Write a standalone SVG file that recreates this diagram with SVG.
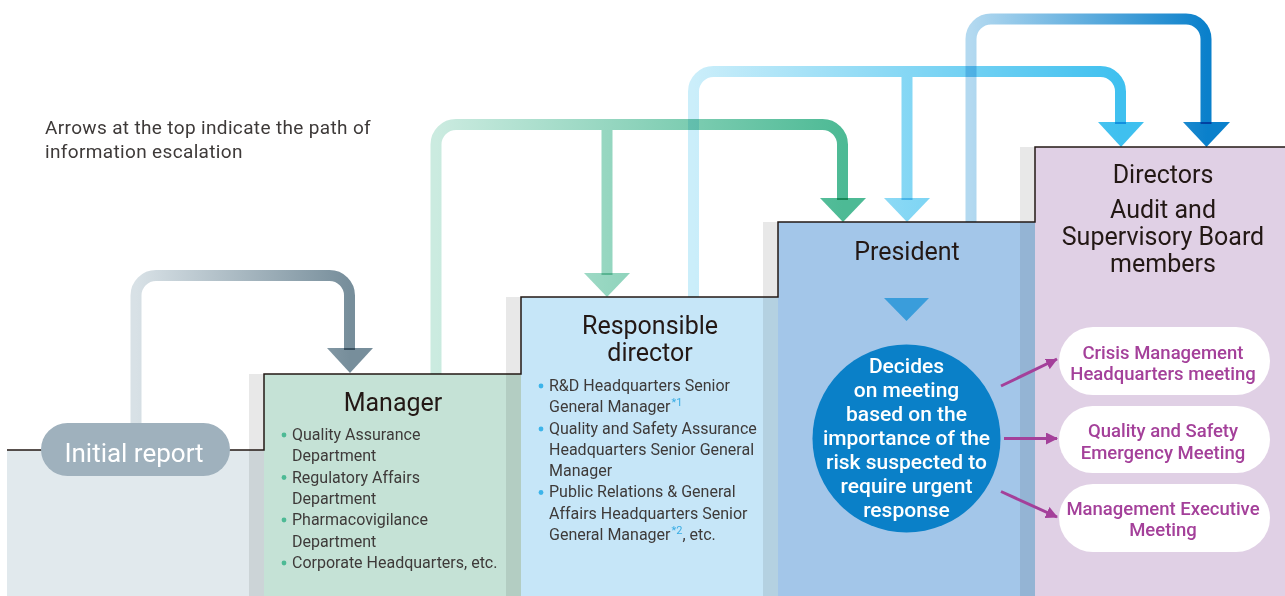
<svg xmlns="http://www.w3.org/2000/svg" width="1285" height="596" viewBox="0 0 1285 596">
<defs>
<style>
.t{font-family:Roboto,"Liberation Sans",sans-serif;fill:#231815}
.title{font-size:25px;text-anchor:middle}
.li{font-size:16px;fill:#3e3a39}
.note{font-size:19px;fill:#3e3a39;letter-spacing:0.35px}
.circ{font-size:21px;font-weight:500;fill:#fff;text-anchor:middle}
.mt{font-size:18.5px;font-weight:500;fill:#a4409a;text-anchor:middle}
.sup{font-size:11px;fill:#3aade4}
.shade{fill:#000;fill-opacity:0.09}
.pill{fill:#fff}
.parr{stroke:#a4409a;stroke-width:3;fill:none}
.arr{fill:none;stroke-width:11;mix-blend-mode:multiply}
.ah{mix-blend-mode:multiply}
</style>
<linearGradient id="g1" gradientUnits="userSpaceOnUse" x1="136" y1="0" x2="350" y2="0"><stop offset="0" stop-color="#d8e1e6"/><stop offset="1" stop-color="#778e9b"/></linearGradient>
<linearGradient id="g2" gradientUnits="userSpaceOnUse" x1="436" y1="0" x2="843" y2="0"><stop offset="0" stop-color="#cbebe0"/><stop offset="1" stop-color="#4dba95"/></linearGradient>
<linearGradient id="g3" gradientUnits="userSpaceOnUse" x1="693" y1="0" x2="1121" y2="0"><stop offset="0" stop-color="#cbeefa"/><stop offset="1" stop-color="#3fc0ef"/></linearGradient>
<linearGradient id="g4" gradientUnits="userSpaceOnUse" x1="971" y1="0" x2="1207" y2="0"><stop offset="0" stop-color="#b3d9f0"/><stop offset="1" stop-color="#0a80cb"/></linearGradient>
<marker id="pm" viewBox="0 0 12 12" refX="11" refY="6" markerWidth="12" markerHeight="12" markerUnits="userSpaceOnUse" orient="auto"><path d="M0,0 L12,6 L0,12 Z" fill="#a4409a"/></marker>
</defs>

<g id="steps">
<rect x="7" y="450" width="257" height="146" fill="#e1e9ed"/>
<rect x="264" y="374" width="257" height="222" fill="#c5e2d6"/>
<rect x="521" y="297" width="257" height="299" fill="#c6e6f8"/>
<rect x="778" y="222" width="257" height="374" fill="#a3c6e9"/>
<rect x="1035" y="147" width="250" height="449" fill="#e0d0e5"/>
<rect class="shade" x="249" y="374" width="15" height="222"/>
<rect class="shade" x="506" y="297" width="15" height="299"/>
<rect class="shade" x="763" y="222" width="15" height="374"/>
<rect class="shade" x="1020" y="147" width="15" height="449"/>
<polyline points="7,450 264,450 264,374 521,374 521,297 778,297 778,222 1035,222 1035,147 1285,147" fill="none" stroke="#231815" stroke-width="1.5"/>
</g>

<g id="connectors">
<path class="arr" stroke="url(#g1)" d="M136,424 V295.5 A20,20 0 0 1 156,275.5 H329.5 A20,20 0 0 1 349.5,295.5 V350"/>
<polygon class="ah" fill="url(#g1)" points="327,348 373,348 350,373"/>
<path class="arr" stroke="url(#g2)" d="M436,374 V144.5 A20,20 0 0 1 456,124.5 H822.5 A20,20 0 0 1 842.5,144.5 V200"/>
<path class="arr" stroke="url(#g2)" stroke-width="10" d="M607,130 V275"/>
<polygon class="ah" fill="url(#g2)" points="584,273 630,273 607,297"/>
<polygon class="ah" fill="url(#g2)" points="820,198 866,198 843,222"/>
<path class="arr" stroke="url(#g3)" d="M693.5,297 V91.5 A20,20 0 0 1 713.5,71.5 H1100.5 A20,20 0 0 1 1120.5,91.5 V124"/>
<path class="arr" stroke="url(#g3)" stroke-width="10" d="M907,77 V200"/>
<polygon class="ah" fill="url(#g3)" points="884,198 930,198 907,222"/>
<polygon class="ah" fill="url(#g3)" points="1098,122 1144,122 1121,147"/>
<path class="arr" stroke="url(#g4)" d="M971,222 V39 A20,20 0 0 1 991,19 H1186 A20,20 0 0 1 1206,39 V124"/>
<polygon class="ah" fill="url(#g4)" points="1183,122 1230,122 1206.5,147"/>
<line class="parr" x1="1001" y1="386" x2="1057" y2="359" marker-end="url(#pm)"/>
<line class="parr" x1="1004" y1="438.5" x2="1057" y2="438.5" marker-end="url(#pm)"/>
<line class="parr" x1="1001" y1="491.5" x2="1057" y2="517" marker-end="url(#pm)"/>
</g>

<g id="note">
<text class="t note" x="45" y="134">Arrows at the top indicate the path of</text>
<text class="t note" x="45" y="158">information escalation</text>
</g>

<g id="initial-report">
<rect x="41" y="423" width="189" height="53" rx="26.5" fill="#9fb1bd"/>
<text class="t" x="134" y="461.5" font-size="26" text-anchor="middle" style="fill:#fff">Initial report</text>
</g>

<g id="manager">
<text class="t title" x="393" y="411">Manager</text>
<g fill="#4dba95">
<circle cx="284" cy="435" r="2.4"/><circle cx="284" cy="477.5" r="2.4"/><circle cx="284" cy="520" r="2.4"/><circle cx="284" cy="563" r="2.4"/>
</g>
<text class="t li" x="292" y="440">Quality Assurance</text>
<text class="t li" x="292" y="461">Department</text>
<text class="t li" x="292" y="483">Regulatory Affairs</text>
<text class="t li" x="292" y="504">Department</text>
<text class="t li" x="292" y="525">Pharmacovigilance</text>
<text class="t li" x="292" y="547">Department</text>
<text class="t li" x="292" y="568">Corporate Headquarters, etc.</text>
</g>

<g id="responsible-director">
<text class="t title" x="650" y="334">Responsible</text>
<text class="t title" x="650" y="361">director</text>
<g fill="#3cb4ea">
<circle cx="541" cy="386" r="2.4"/><circle cx="541" cy="429" r="2.4"/><circle cx="541" cy="492.5" r="2.4"/>
</g>
<text class="t li" x="549" y="391">R&amp;D Headquarters Senior</text>
<text class="t li" x="549" y="412">General Manager<tspan class="sup" dx="1" dy="-6">*1</tspan></text>
<text class="t li" x="549" y="434">Quality and Safety Assurance</text>
<text class="t li" x="549" y="455">Headquarters Senior General</text>
<text class="t li" x="549" y="476">Manager</text>
<text class="t li" x="549" y="497">Public Relations &amp; General</text>
<text class="t li" x="549" y="519">Affairs Headquarters Senior</text>
<text class="t li" x="549" y="540">General Manager<tspan class="sup" dx="1" dy="-6">*2</tspan><tspan dy="6">, etc.</tspan></text>
</g>

<g id="president">
<text class="t title" x="907" y="260">President</text>
<polygon points="884,298 929,298 906.5,321" fill="#3a9ddb"/>
<circle cx="906.5" cy="438.5" r="94" fill="#0a80c8"/>
<text class="t circ" x="906.5" y="373">Decides</text>
<text class="t circ" x="906.5" y="397">on meeting</text>
<text class="t circ" x="906.5" y="421">based on the</text>
<text class="t circ" x="906.5" y="445">importance of the</text>
<text class="t circ" x="906.5" y="469">risk suspected to</text>
<text class="t circ" x="906.5" y="493">require urgent</text>
<text class="t circ" x="906.5" y="517">response</text>
</g>

<g id="directors">
<text class="t title" x="1163" y="183">Directors</text>
<text class="t title" x="1163" y="218">Audit and</text>
<text class="t title" x="1163" y="245">Supervisory Board</text>
<text class="t title" x="1163" y="272">members</text>
</g>

<g id="crisis-meeting">
<rect class="pill" x="1059" y="327" width="211" height="68" rx="34"/>
<text class="t mt" x="1163" y="358.5">Crisis Management</text>
<text class="t mt" x="1163" y="379.5">Headquarters meeting</text>
</g>
<g id="quality-meeting">
<rect class="pill" x="1059" y="406" width="211" height="67" rx="33.5"/>
<text class="t mt" x="1163" y="437">Quality and Safety</text>
<text class="t mt" x="1163" y="458.5">Emergency Meeting</text>
</g>
<g id="executive-meeting">
<rect class="pill" x="1059" y="484" width="211" height="68" rx="34"/>
<text class="t mt" x="1163" y="515">Management Executive</text>
<text class="t mt" x="1163" y="536">Meeting</text>
</g>
</svg>
